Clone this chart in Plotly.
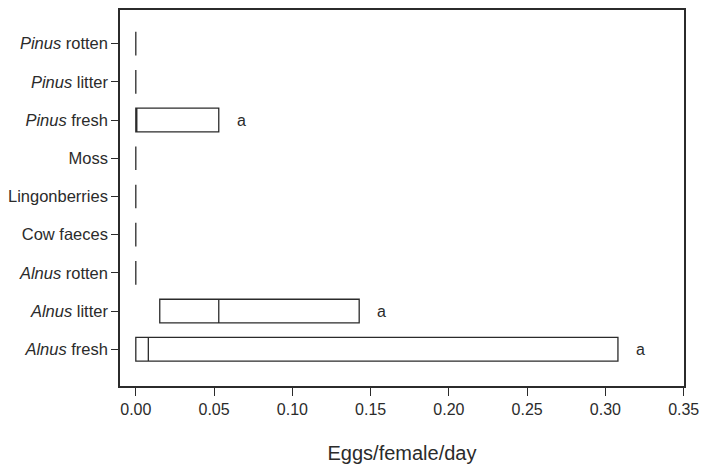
import plotly.graph_objects as go

categories = ["<i>Alnus</i> fresh", "<i>Alnus</i> litter", "<i>Alnus</i> rotten", "Cow faeces",
              "Lingonberries", "Moss", "<i>Pinus</i> fresh", "<i>Pinus</i> litter", "<i>Pinus</i> rotten"]
q1 = [0.0, 0.0153, 0.0, 0.0, 0.0, 0.0, 0.0, 0.0, 0.0]
median = [0.008, 0.053, 0.0, 0.0, 0.0, 0.0, 0.0, 0.0, 0.0]
q3 = [0.308, 0.1427, 0.0, 0.0, 0.0, 0.0, 0.053, 0.0, 0.0]
letters = ["a", "a", "", "", "", "", "a", "", ""]
x_ticks = [0.0, 0.05, 0.10, 0.15, 0.20, 0.25, 0.30, 0.35]
x_tick_labels = ["0.00", "0.05", "0.10", "0.15", "0.20", "0.25", "0.30", "0.35"]

ink = "#2b2b2b"
font = "Liberation Sans, Arial, sans-serif"

fig = go.Figure()
fig.add_trace(go.Box(
    y=categories, q1=q1, median=median, q3=q3,
    lowerfence=q1, upperfence=q3,
    orientation="h", boxpoints=False, whiskerwidth=0,
    width=0.62, line=dict(color=ink, width=1.3), fillcolor="rgba(255,255,255,0)",
    showlegend=False, hoverinfo="skip",
))

for cat, xv, lab in zip(categories, q3, letters):
    if lab:
        fig.add_annotation(x=xv, y=cat, text=lab, showarrow=False, xanchor="left",
                           xshift=16, font=dict(family=font, size=16, color=ink))

fig.update_layout(
    width=692, height=456,
    margin=dict(l=110, r=16, t=0, b=77),
    plot_bgcolor="white", paper_bgcolor="white",
    font=dict(family=font, size=16, color=ink),
    xaxis=dict(range=[-0.0101, 0.3502], tickvals=x_ticks, ticktext=x_tick_labels,
               ticks="outside", ticklen=8, tickwidth=1.2, tickcolor=ink,
               showline=True, linecolor=ink, linewidth=1.5, mirror=True,
               showgrid=False, zeroline=False,
               tickfont=dict(size=16, color=ink),
               title=dict(text="Eggs/female/day", font=dict(size=20, color=ink), standoff=32)),
    yaxis=dict(type="category", categoryorder="array", categoryarray=categories,
               range=[-0.96, 8.88],
               ticks="outside", ticklen=7, tickwidth=1.2, tickcolor=ink,
               showline=True, linecolor=ink, linewidth=1.5, mirror=True,
               showgrid=False, zeroline=False,
               tickfont=dict(size=16.5, color=ink)),
)

fig.write_html("out.html")
